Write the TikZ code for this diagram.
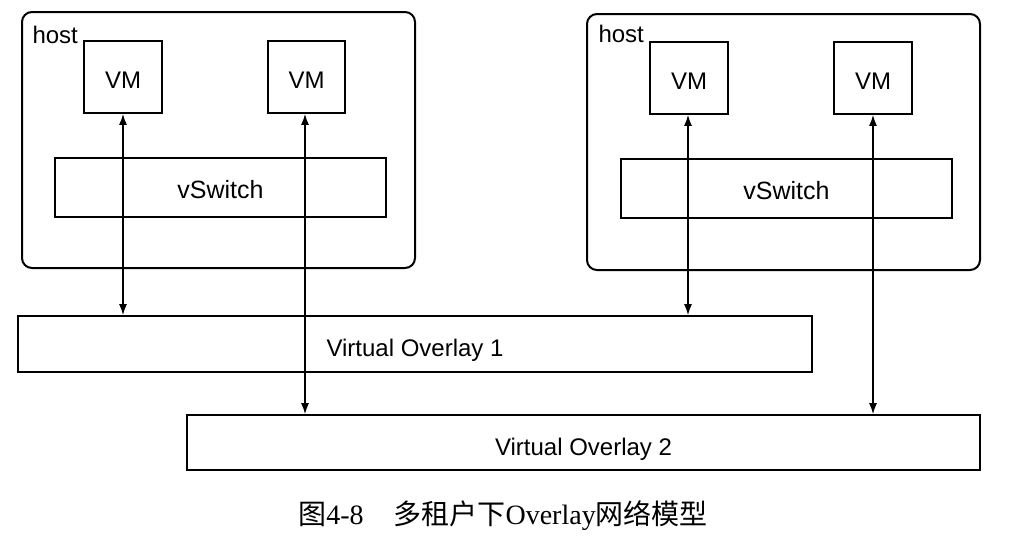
\documentclass[tikz,border=0pt]{standalone}
\usepackage{fontspec}
\setmainfont{Liberation Sans}
\newfontfamily\capserif{Liberation Serif}
\newfontfamily\cjk{Noto Sans CJK SC}
\usetikzlibrary{arrows.meta}
\begin{document}
\begin{tikzpicture}[x=1pt,y=-1pt,
  box/.style={draw,line width=1.8pt,inner sep=0pt,text height=22pt,text depth=0pt,font=\fontsize{24}{24}\selectfont},
  hostbox/.style={draw,line width=2pt,rounded corners=10pt,inner sep=0pt},
  link/.style={line width=1.3pt,{Latex[length=11pt,width=8pt]}-{Latex[length=11pt,width=8pt]}}]
\useasboundingbox (0,0) rectangle (1014,539);
% hosts
\node[hostbox,minimum width=393pt,minimum height=256pt] (h1) at (218.5,140) {};
\node[hostbox,minimum width=393pt,minimum height=256pt] (h2) at (783.5,142) {};
\node[anchor=west,font=\fontsize{24}{24}\selectfont] (hl1) at (29,35) {host};
\node[anchor=west,font=\fontsize{24}{24}\selectfont] (hl2) at (595,34) {host};
% VMs
\node[box,minimum width=78pt,minimum height=72pt] (vm1) at (123,77) {VM};
\node[box,minimum width=77pt,minimum height=72pt] (vm2) at (306.5,77) {VM};
\node[box,minimum width=78pt,minimum height=72pt] (vm3) at (689,78) {VM};
\node[box,minimum width=78pt,minimum height=72pt] (vm4) at (873,78) {VM};
% vSwitches
\node[box,minimum width=331pt,minimum height=59pt,font=\fontsize{25}{25}\selectfont] (vs1) at (220.5,187.5) {vSwitch};
\node[box,minimum width=331pt,minimum height=59pt,font=\fontsize{25}{25}\selectfont] (vs2) at (786.5,188.5) {vSwitch};
% overlays
\node[box,minimum width=794pt,minimum height=56pt,text height=25pt,font=\fontsize{24}{24}\selectfont] (ov1) at (415,344) {Virtual Overlay 1};
\node[box,minimum width=793pt,minimum height=55pt,text height=25pt,font=\fontsize{24}{24}\selectfont] (ov2) at (583.5,442.5) {Virtual Overlay 2};
% links
\draw[link] (vm1.south) -- (vm1.south |- ov1.north);
\draw[link] (vm2.south -| 305,0) -- (305,0 |- ov2.north);
\draw[link] (vm3.south -| 688,0) -- (688,0 |- ov1.north);
\draw[link] (vm4.south) -- (vm4.south |- ov2.north);
% caption
\node[font=\fontsize{28}{28}\selectfont] (cap) at (503,516) {{\cjk 图}{\capserif 4-8}\hspace{30pt}{\cjk 多租户下}{\capserif Overlay}{\cjk 网络模型}};
\end{tikzpicture}
\end{document}
